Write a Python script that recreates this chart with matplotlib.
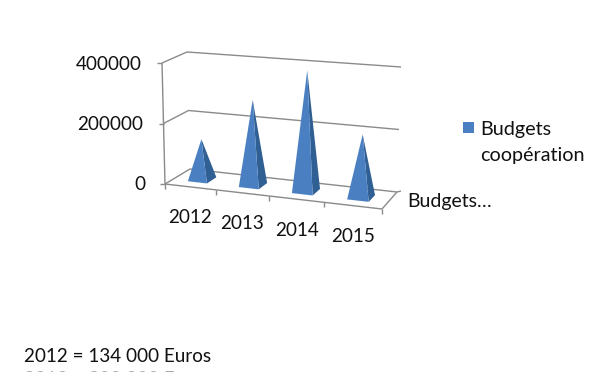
import matplotlib
matplotlib.use('Agg')
import matplotlib.pyplot as plt
from matplotlib.patches import Polygon, Rectangle

plt.rcParams['font.family'] = ['Lato', 'DejaVu Sans']

years = ['2012', '2013', '2014', '2015']
budgets = [134000, 280000, 390000, 200000]
y_ticks = [0, 200000, 400000]
series_lines = ['Budgets', 'coopération']
depth_label = 'Budgets…'
notes = ['2012 = 134 000 Euros', '2013 = 280 000 Euros']

GREY = '#8a8a8a'
FRONT = '#4a80c2'
SIDE = '#2f5f93'
TXT = '#111111'
FS = 13.6


# floor corners in pixels, the chart is a hand made 3d projection
# with a little perspective: things get bigger towards the right
def proj(u, d, v):
    u = u / len(years)
    u = 0.92 * u + 0.08 * u * u
    fx, fy = 165 + 217 * u, 184 + 25 * u
    bx, by = 190 + 207 * u, 169 + 23 * u
    x = fx + (bx - fx) * d + v * (-3 + 7 * u) / 400000
    y = fy + (by - fy) * d - v * (60.5 - 2 * d + 4 * u) / 200000
    return x, y


fig = plt.figure(figsize=(6, 3.72), dpi=100)
ax = fig.add_axes([0, 0, 1, 1])
ax.set_xlim(0, 600)
ax.set_ylim(372, 0)
ax.axis('off')


def line(pts):
    ax.plot([p[0] for p in pts], [p[1] for p in pts], c=GREY, lw=1, zorder=1,
            solid_capstyle='butt')


n = len(years)
# walls and value axis
for t in y_ticks:
    line([proj(0, 0, t), proj(0, 1, t), proj(n, 1, t)])
    x, y = proj(0, 0, t)
    line([(x - 5, y), (x, y)])
    ax.text(x - 20, y + 1, str(t), ha='right', va='center', fontsize=FS, color=TXT)
line([proj(0, 0, 0), proj(0, 0, y_ticks[-1])])

# floor
line([proj(0, 0, 0), proj(n, 0, 0), proj(n, 1, 0)])
for i in range(n + 1):
    x, y = proj(i, 0, 0)
    line([(x, y), (x, y + 5)])
x, y = proj(n, 1, 0)
line([(x, y), (x + 4, y - 1)])
x, y = proj(n, 0, 0)
ax.text(x + 25, y - 8, depth_label, ha='left', va='center', fontsize=14, color=TXT)

# pyramids
hw, hd = 0.19, 0.2
for i, (year, val) in enumerate(zip(years, budgets)):
    u = i + 0.5
    apex = proj(u, 0.5, val)
    fl = proj(u - hw, 0.5 - hd, 0)
    fr = proj(u + hw, 0.5 - hd, 0)
    br = proj(u + hw, 0.5 + hd, 0)
    ax.add_patch(Polygon([apex, fr, br], fc=SIDE, ec='none', zorder=3))
    ax.add_patch(Polygon([apex, fl, fr], fc=FRONT, ec='none', zorder=4))
    x, y = proj(u, 0, 0)
    ax.text(x, y + 31, year, ha='center', va='center', fontsize=FS, color=TXT)

# legend
ax.add_patch(Rectangle((463, 122), 11, 11, fc=FRONT, ec='none'))
for i, s in enumerate(series_lines):
    ax.text(480, 129 + 26 * i, s, ha='left', va='center', fontsize=14.2, color=TXT)

# text under the chart, the second line is cut by the image edge and looks faint
for i, note in enumerate(notes):
    ax.text(24, 362 + 23 * i, note, ha='left', va='baseline', fontsize=FS,
            color=TXT if i == 0 else '#aaaaaa')

fig.savefig('out.png', dpi=100)
